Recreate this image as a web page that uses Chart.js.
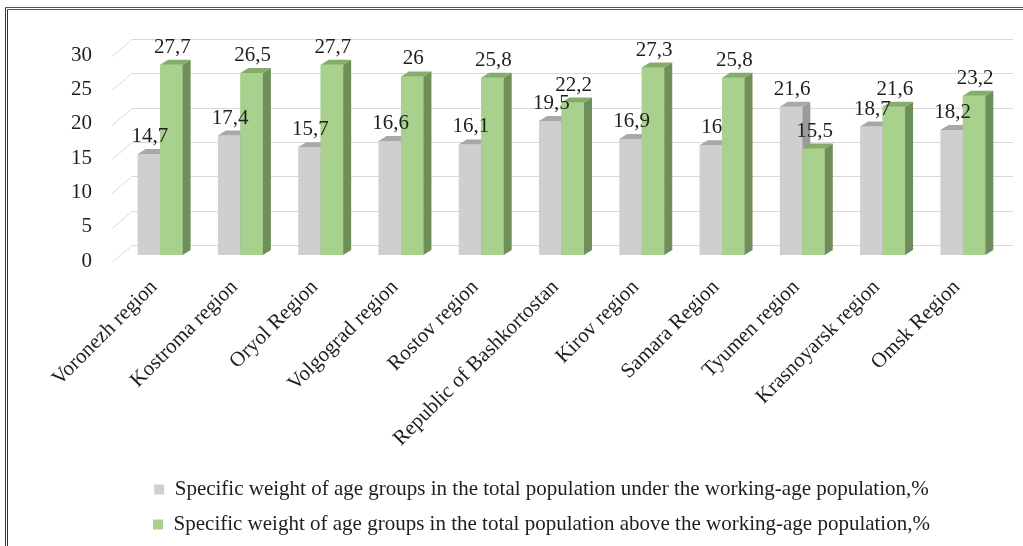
<!DOCTYPE html>
<html>
<head>
<meta charset="utf-8">
<script src="https://cdn.jsdelivr.net/npm/chart.js@4"></script>
<style>
  html, body { margin: 0; padding: 0; background: #fff; }
  #wrap { position: relative; width: 1023px; height: 546px; overflow: hidden; }
  #frame {
    position: absolute; left: 5px; top: 7px; width: 1100px; height: 600px;
    border-top: 3px double #555; border-left: 3px double #333;
    pointer-events: none;
  }
</style>
</head>
<body>
<div id="wrap">
  <canvas id="chart" width="1023" height="546"></canvas>
  <div id="frame"></div>
</div>
<script>
const regions = ['Voronezh region', 'Kostroma region', 'Oryol Region', 'Volgograd region', 'Rostov region',
    'Republic of Bashkortostan', 'Kirov region', 'Samara Region', 'Tyumen region', 'Krasnoyarsk region', 'Omsk Region'];
const underWorking = [14.7, 17.4, 15.7, 16.6, 16.1, 19.5, 16.9, 16, 21.6, 18.7, 18.2];
const aboveWorking = [27.7, 26.5, 27.7, 26, 25.8, 22.2, 27.3, 25.8, 15.5, 21.6, 23.2];
const yTicks = [0, 5, 10, 15, 20, 25, 30];

const FONT = 'Liberation Serif';
const DX = 8, DY = 5;

// top and side faces for the fake 3d look
const faces = [
    { top: '#a9a7a7', side: '#9c9a9a' },
    { top: '#85ac69', side: '#6f8f5a' }
];

function drawFaces(ctx, meta, f) {
    meta.data.forEach(bar => {
        const { x, y, base, width } = bar.getProps(['x', 'y', 'base', 'width'], true);
        const l = x - width / 2, r = x + width / 2;
        ctx.fillStyle = f.side;
        ctx.beginPath();
        ctx.moveTo(r, y);
        ctx.lineTo(r + DX, y - DY);
        ctx.lineTo(r + DX, base - DY);
        ctx.lineTo(r, base);
        ctx.closePath();
        ctx.fill();
        ctx.fillStyle = f.top;
        ctx.beginPath();
        ctx.moveTo(l, y);
        ctx.lineTo(l + DX, y - DY);
        ctx.lineTo(r + DX, y - DY);
        ctx.lineTo(r, y);
        ctx.closePath();
        ctx.fill();
    });
}

const bars3d = {
    id: 'bars3d',
    afterLayout(chart) {
        // nudge the legend a little right, as in the original
        chart.legend.left += 10;
        chart.legend.right += 10;
    },
    beforeDatasetsDraw(chart) {
        const { ctx, chartArea } = chart;
        const y = chart.scales.y;
        ctx.save();
        ctx.strokeStyle = '#d9d9d9';
        ctx.lineWidth = 1;
        yTicks.forEach(v => {
            const py = Math.round(y.getPixelForValue(v)) + 0.5;
            ctx.beginPath();
            ctx.moveTo(chartArea.left - 8, py + 7);
            ctx.lineTo(chartArea.left + 12, py - 10);
            ctx.lineTo(chartArea.right + 10, py - 10);
            ctx.stroke();
        });
        ctx.restore();
    },
    afterDatasetsDraw(chart) {
        const { ctx } = chart;
        const grayMeta = chart.getDatasetMeta(0);
        const greenMeta = chart.getDatasetMeta(1);
        ctx.save();
        drawFaces(ctx, grayMeta, faces[0]);
        greenMeta.data.forEach(bar => bar.draw(ctx));
        drawFaces(ctx, greenMeta, faces[1]);

        ctx.font = '21px "' + FONT + '"';
        ctx.fillStyle = '#1e1e1e';
        ctx.textAlign = 'center';
        ctx.textBaseline = 'alphabetic';
        chart.data.datasets.forEach((ds, i) => {
            chart.getDatasetMeta(i).data.forEach((bar, j) => {
                const txt = String(ds.data[j]).replace('.', ',');
                ctx.fillText(txt, bar.x + 1, bar.y - 12);
            });
        });
        ctx.restore();
    }
};

new Chart(document.getElementById('chart'), {
    type: 'bar',
    data: {
        labels: regions,
        datasets: [
            {
                label: 'Specific weight of age groups in the total population under the working-age population,%',
                data: underWorking,
                backgroundColor: '#d0cece'
            },
            {
                label: 'Specific weight of age groups in the total population above the working-age population,%',
                data: aboveWorking,
                backgroundColor: '#a9d18e'
            }
        ]
    },
    options: {
        responsive: false,
        animation: false,
        devicePixelRatio: 1,
        layout: { padding: { top: 49, left: 60, right: 20, bottom: 1 } },
        datasets: { bar: { barPercentage: 1, categoryPercentage: 0.56, borderWidth: 0 } },
        scales: {
            x: {
                grid: { display: false },
                border: { display: false },
                ticks: {
                    color: '#1e1e1e',
                    font: { family: FONT, size: 21 },
                    minRotation: 45,
                    maxRotation: 45,
                    padding: 12,
                    labelOffset: -6
                },
                afterFit(scale) { scale.height = 210; }
            },
            y: {
                min: 0,
                max: 30,
                grid: { display: false },
                border: { display: false },
                ticks: {
                    stepSize: 5,
                    color: '#1e1e1e',
                    font: { family: FONT, size: 21 },
                    padding: 20,
                    labelOffset: 6
                },
                afterFit(scale) { scale.width = 60; }
            }
        },
        plugins: {
            tooltip: { enabled: false },
            legend: {
                position: 'bottom',
                labels: {
                    color: '#1e1e1e',
                    font: { family: FONT, size: 21 },
                    boxWidth: 10,
                    boxHeight: 10,
                    padding: 14
                }
            }
        }
    },
    plugins: [bars3d]
});
</script>
</body>
</html>
